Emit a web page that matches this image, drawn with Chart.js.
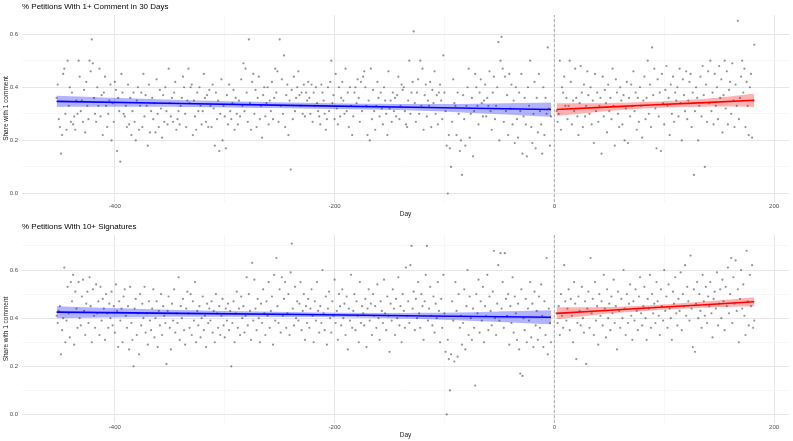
<!DOCTYPE html>
<html>
<head>
<meta charset="utf-8">
<script src="https://cdn.jsdelivr.net/npm/chart.js@4.4.0/dist/chart.umd.min.js"></script>
<style>
  body { margin: 0; background: #fff; }
  canvas { display: block; }
</style>
</head>
<body>
<canvas id="top-panel" width="793" height="220"></canvas>
<canvas id="bottom-panel" width="793" height="221"></canvas>
<script>
// days before / after the change (day 0)
var preStart = -453, preEnd = -3;
var postStart = 2, postEnd = 182;

// share of petitions with 1+ comment in 30 days
var commentPre = [
  .36,.41,.28,.25,.15,.22,.45,.47,.30,.24,
  .50,.33,.40,.27,.38,.26,.29,.24,.35,.30,
  .50,.44,.31,.35,.27,.39,.23,.42,.33,.28,
  .50,.46,.58,.49,.36,.30,.27,.40,.33,.47,
  .29,.37,.22,.38,.44,.33,.25,.30,.35,.41,
  .20,.34,.27,.42,.39,.16,.36,.31,.12,.45,
  .38,.30,.29,.33,.25,.41,.26,.36,.22,.31,
  .38,.27,.20,.35,.40,.24,.33,.38,.25,.45,
  .29,.37,.33,.18,.41,.23,.31,.36,.28,.34,
  .23,.43,.30,.25,.39,.32,.21,.37,.27,.40,
  .31,.26,.47,.34,.29,.36,.27,.38,.42,.24,
  .28,.31,.26,.33,.36,.44,.40,.30,.25,.35,
  .47,.34,.40,.41,.22,.35,.29,.24,.38,.31,
  .40,.33,.26,.31,.45,.36,.27,.37,.25,.39,
  .33,.25,.41,.32,.18,.38,.28,.35,.16,.30,
  .43,.20,.33,.29,.17,.37,.26,.41,.31,.28,
  .34,.39,.24,.36,.30,.26,.35,.29,.43,.33,
  .49,.31,.47,.38,.27,.58,.34,.24,.42,.45,
  .30,.39,.25,.36,.44,.28,.33,.21,.37,.40,
  .29,.34,.40,.26,.35,.31,.42,.28,.36,.47,
  .38,.46,.27,.58,.33,.43,.30,.52,.25,.37,
  .41,.22,.35,.09,.39,.28,.44,.31,.36,.40,
  .46,.37,.33,.38,.30,.41,.29,.38,.35,.42,
  .36,.30,.41,.27,.38,.33,.40,.34,.31,.29,
  .26,.41,.38,.35,.30,.24,.28,.40,.31,.42,
  .50,.34,.37,.28,.45,.32,.26,.40,.29,.36,
  .42,.35,.30,.47,.31,.38,.25,.40,.33,.22,
  .29,.38,.40,.34,.43,.36,.27,.42,.31,.44,
  .46,.40,.33,.22,.35,.20,.47,.28,.39,.31,
  .24,.33,.42,.36,.29,.38,.32,.26,.40,.35,
  .30,.22,.46,.32,.35,.27,.38,.31,.36,.29,
  .37,.44,.28,.33,.41,.39,.40,.31,.26,.25,
  .35,.50,.30,.38,.42,.61,.34,.27,.38,.43,
  .30,.50,.33,.47,.24,.37,.41,.29,.35,.33,
  .42,.25,.39,.34,.46,.30,.37,.26,.38,.41,
  .35,.28,.52,.38,.31,.18,.00,.22,.17,.10,
  .27,.43,.34,.33,.22,.38,.30,.16,.20,.07,
  .37,.28,.18,.33,.40,.47,.21,.30,.36,.14,
  .31,.45,.40,.33,.26,.38,.43,.34,.29,.35,
  .41,.29,.36,.33,.46,.31,.24,.38,.44,.28,
  .33,.40,.57,.20,.50,.59,.47,.27,.44,.31,
  .37,.22,.45,.32,.41,.26,.35,.19,.40,.28,
  .21,.38,.31,.45,.15,.29,.36,.26,.14,.40,
  .33,.50,.25,.19,.30,.42,.17,.36,.23,.45,
  .31,.26,.15,.40,.22,.36,.30,.55,.32,.18,
  .29
];
var commentPost = [
  .31,.27,.30,.50,.24,.40,.38,.44,.33,.36,
  .28,.33,.50,.42,.26,.35,.31,.47,.36,.29,
  .22,.34,.48,.38,.25,.41,.29,.33,.46,.37,
  .30,.40,.26,.35,.19,.45,.31,.38,.27,.33,
  .36,.15,.44,.29,.39,.34,.23,.41,.31,.36,
  .28,.47,.33,.18,.43,.38,.30,.25,.40,.35,
  .26,.37,.20,.32,.42,.19,.36,.29,.41,.33,
  .46,.31,.38,.24,.36,.27,.40,.33,.21,.35,
  .44,.28,.36,.50,.30,.41,.25,.55,.37,.47,
  .32,.17,.43,.29,.38,.16,.45,.34,.26,.39,
  .48,.33,.36,.22,.41,.30,.44,.27,.38,.35,
  .40,.29,.47,.34,.20,.43,.37,.31,.46,.28,
  .35,.42,.45,.25,.38,.07,.31,.40,.36,.20,
  .33,.44,.29,.48,.37,.10,.41,.27,.46,.34,
  .50,.31,.38,.26,.45,.33,.40,.28,.48,.36,
  .43,.23,.37,.50,.32,.46,.26,.39,.42,.30,
  .49,.35,.25,.41,.33,.65,.28,.36,.44,.50,
  .38,.47,.25,.42,.33,.22,.40,.45,.21,.35,
  .56
];

// share for petitions with 10+ signatures
var signPre = [
  .41,.38,.43,.45,.25,.35,.40,.61,.30,.39,
  .53,.42,.32,.55,.47,.58,.29,.51,.44,.36,
  .55,.40,.37,.49,.56,.43,.33,.46,.51,.38,
  .57,.45,.30,.52,.41,.36,.54,.42,.47,.33,
  .53,.39,.48,.44,.31,.50,.42,.36,.46,.40,
  .51,.37,.45,.34,.54,.43,.28,.47,.39,.44,
  .30,.49,.52,.41,.36,.45,.27,.53,.38,.31,
  .20,.44,.48,.33,.42,.25,.50,.37,.46,.40,
  .53,.34,.42,.29,.47,.39,.35,.44,.52,.32,
  .40,.47,.28,.43,.37,.50,.33,.45,.41,.38,
  .21,.43,.49,.36,.27,.46,.39,.52,.34,.42,
  .38,.57,.31,.45,.40,.48,.35,.29,.44,.51,
  .42,.36,.50,.33,.47,.39,.55,.30,.43,.37,
  .45,.32,.40,.49,.35,.41,.28,.46,.38,.44,
  .39,.47,.34,.43,.30,.50,.42,.36,.45,.33,
  .41,.48,.37,.32,.44,.39,.46,.35,.43,.20,
  .38,.47,.30,.42,.51,.36,.44,.33,.49,.40,
  .45,.34,.41,.57,.37,.50,.43,.31,.63,.39,
  .56,.44,.35,.48,.40,.30,.46,.38,.52,.42,
  .33,.47,.41,.55,.36,.43,.49,.29,.58,.39,
  .65,.45,.38,.52,.34,.57,.41,.48,.55,.36,
  .42,.50,.33,.59,.71,.44,.37,.53,.40,.47,
  .39,.46,.55,.35,.43,.50,.31,.45,.38,.48,
  .36,.44,.52,.41,.30,.47,.39,.55,.43,.34,
  .45,.38,.60,.42,.35,.49,.29,.44,.51,.40,
  .34,.47,.41,.56,.38,.43,.31,.50,.45,.37,
  .52,.40,.46,.33,.49,.27,.44,.39,.58,.36,
  .43,.50,.35,.47,.41,.30,.55,.38,.45,.42,
  .37,.48,.28,.44,.52,.39,.46,.33,.50,.41,
  .45,.36,.54,.40,.31,.47,.43,.38,.56,.42,
  .35,.49,.41,.26,.46,.39,.52,.44,.33,.48,
  .40,.57,.37,.45,.30,.50,.43,.36,.61,.41,
  .47,.38,.62,.70,.44,.51,.35,.48,.40,.55,
  .42,.36,.50,.45,.31,.47,.58,.70,.39,.44,
  .53,.41,.37,.49,.34,.46,.40,.55,.43,.30,
  .48,.36,.58,.42,.26,.00,.31,.23,.10,.25,
  .47,.39,.22,.55,.43,.24,.50,.36,.41,.29,
  .38,.52,.27,.45,.60,.33,.49,.40,.31,.44,
  .36,.12,.50,.42,.56,.34,.47,.39,.53,.30,
  .45,.41,.58,.35,.49,.43,.37,.51,.68,.40,
  .33,.46,.62,.39,.67,.44,.55,.36,.67,.48,
  .41,.50,.29,.45,.38,.57,.34,.49,.42,.31,
  .46,.27,.17,.52,.16,.40,.35,.48,.30,.44,
  .39,.55,.32,.46,.28,.51,.37,.43,.31,.49,
  .36,.54,.41,.28,.47,.33,.65,.25,.44,.38,
  .30
];
var signPost = [
  .42,.38,.45,.33,.50,.41,.36,.62,.47,.39,
  .44,.52,.35,.48,.41,.30,.55,.46,.23,.38,
  .49,.43,.37,.53,.40,.34,.47,.21,.44,.51,
  .36,.65,.42,.48,.33,.55,.39,.45,.29,.50,
  .41,.47,.37,.58,.44,.32,.52,.40,.46,.35,
  .49,.42,.56,.38,.45,.27,.51,.43,.36,.48,
  .40,.60,.44,.33,.50,.38,.46,.54,.41,.31,
  .47,.39,.52,.43,.35,.49,.57,.42,.37,.45,
  .53,.40,.31,.48,.44,.58,.36,.50,.42,.46,
  .38,.55,.47,.41,.33,.52,.45,.39,.60,.43,
  .49,.36,.54,.44,.40,.31,.51,.46,.57,.42,
  .37,.48,.43,.59,.35,.50,.45,.62,.41,.53,
  .47,.39,.66,.44,.28,.52,.26,.46,.55,.40,
  .50,.43,.36,.58,.47,.41,.53,.38,.49,.45,
  .55,.42,.32,.48,.51,.44,.59,.37,.46,.52,
  .40,.56,.47,.35,.53,.45,.61,.42,.50,.65,
  .38,.57,.46,.64,.43,.52,.30,.48,.60,.44,
  .54,.41,.33,.68,.47,.37,.58,.45,.62,.36,
  .39
];

// linear fits with confidence band
var fitPreX  = [-453, -340, -228, -115, -3];
var fitPostX = [2, 47, 92, 137, 182];
var commentPreFit  = [.347, .339, .331, .324, .316];
var commentPreLo   = [.326, .326, .320, .311, .289];
var commentPreHi   = [.368, .352, .342, .337, .343];
var commentPostFit = [.316, .325, .334, .342, .351];
var commentPostLo  = [.292, .310, .322, .327, .326];
var commentPostHi  = [.340, .340, .346, .357, .376];
var signPreFit  = [.425, .420, .415, .409, .404];
var signPreLo   = [.400, .406, .405, .396, .375];
var signPreHi   = [.450, .434, .425, .422, .433];
var signPostFit = [.420, .432, .444, .456, .468];
var signPostLo  = [.395, .418, .433, .443, .449];
var signPostHi  = [.445, .446, .455, .469, .487];

var xTicks = [-400, -300, -200, -100, 0, 100, 200];
var yTicksTop = [0, 0.1, 0.2, 0.3, 0.4, 0.5, 0.6];
var yTicksBottom = [0, 0.1, 0.2, 0.3, 0.4, 0.5, 0.6, 0.7];

function toPoints(xs, ys) {
  var out = [];
  for (var i = 0; i < ys.length && i < xs.length; i++) out.push({x: xs[i], y: ys[i]});
  return out;
}
function dayRange(a, b) {
  var out = [];
  for (var d = a; d <= b; d++) out.push(d);
  return out;
}

var titlePlugin = {
  id: 'panelTitle',
  afterDraw: function(chart, args, opts) {
    var c = chart.ctx;
    c.save();
    c.font = '8px "Liberation Sans", Arial, sans-serif';
    c.fillStyle = '#000';
    c.textBaseline = 'middle';
    c.textAlign = 'left';
    c.fillText(opts.text, chart.chartArea.left, 7);
    c.restore();
  }
};

function isMajor(v, step) {
  return Math.abs(Math.round(v / step) - v / step) < 1e-6;
}

function bandLine(xs, ys, color, fill) {
  return {
    data: toPoints(xs, ys), showLine: true, pointRadius: 0, borderWidth: 0,
    borderColor: 'rgba(0,0,0,0)', backgroundColor: color, fill: fill, tension: 0.3
  };
}

function makePanel(id, title, pre, post, fits, yMin, yMax, yTicks) {
  var points = toPoints(dayRange(preStart, preEnd), pre)
    .concat(toPoints(dayRange(postStart, postEnd), post));
  new Chart(document.getElementById(id).getContext('2d'), {
    type: 'scatter',
    data: {
      datasets: [
        {data: toPoints(fitPreX, fits.preFit), showLine: true, pointRadius: 0,
         borderColor: '#0000ff', borderWidth: 1.6},
        {data: toPoints(fitPostX, fits.postFit), showLine: true, pointRadius: 0,
         borderColor: '#ff0000', borderWidth: 1.6},
        bandLine(fitPreX, fits.preHi, 'rgba(0,0,255,0.3)', '+1'),
        bandLine(fitPreX, fits.preLo, 'rgba(0,0,255,0.3)', false),
        bandLine(fitPostX, fits.postHi, 'rgba(255,0,0,0.3)', '+1'),
        bandLine(fitPostX, fits.postLo, 'rgba(255,0,0,0.3)', false),
        {data: [{x: 0, y: yMin}, {x: 0, y: yMax}], showLine: true, pointRadius: 0,
         borderColor: '#9a9a9a', borderWidth: 0.8, borderDash: [3, 2]},
        {data: points, pointRadius: 1.1, borderWidth: 0,
         backgroundColor: 'rgba(40,40,40,0.5)'}
      ]
    },
    options: {
      responsive: false,
      animation: false,
      devicePixelRatio: 1,
      layout: {padding: {top: 15, right: 3, bottom: 0, left: 0}},
      plugins: {
        legend: {display: false},
        tooltip: {enabled: false},
        panelTitle: {text: title}
      },
      scales: {
        x: {
          type: 'linear', min: -484.5, max: 213.6,
          afterBuildTicks: function(s) { s.ticks = xTicks.map(function(v) { return {value: v}; }); },
          afterFit: function(s) { s.height = 18; },
          ticks: {
            autoSkip: false, maxRotation: 0, padding: 1,
            font: {family: '"Liberation Sans", Arial, sans-serif', size: 6}, color: '#4d4d4d',
            callback: function(v) { return isMajor(v, 200) ? String(v) : ''; }
          },
          grid: {
            drawTicks: false,
            color: function(ctx) { return ctx.tick && isMajor(ctx.tick.value, 200) ? '#e6e6e6' : '#f2f2f2'; },
            lineWidth: function(ctx) { return ctx.tick && isMajor(ctx.tick.value, 200) ? 1 : 0.6; }
          },
          border: {display: false},
          title: {
            display: true, text: 'Day', color: '#1a1a1a',
            font: {family: '"Liberation Sans", Arial, sans-serif', size: 6.5},
            padding: {top: 0, bottom: 2}
          }
        },
        y: {
          min: yMin, max: yMax,
          afterBuildTicks: function(s) { s.ticks = yTicks.map(function(v) { return {value: v}; }); },
          afterFit: function(s) { s.width = 22; },
          ticks: {
            autoSkip: false, padding: 4,
            font: {family: '"Liberation Sans", Arial, sans-serif', size: 6}, color: '#4d4d4d',
            callback: function(v) { return isMajor(v, 0.2) ? v.toFixed(1) : ''; }
          },
          grid: {
            drawTicks: false,
            color: function(ctx) { return ctx.tick && isMajor(ctx.tick.value, 0.2) ? '#e6e6e6' : '#f2f2f2'; },
            lineWidth: function(ctx) { return ctx.tick && isMajor(ctx.tick.value, 0.2) ? 1 : 0.6; }
          },
          border: {display: false},
          title: {
            display: true, text: 'Share with 1 comment', color: '#1a1a1a',
            font: {family: '"Liberation Sans", Arial, sans-serif', size: 6.5},
            padding: {top: 2, bottom: 0}
          }
        }
      }
    },
    plugins: [titlePlugin]
  });
}

makePanel('top-panel', '% Petitions With 1+ Comment in 30 Days', commentPre, commentPost,
  {preFit: commentPreFit, preLo: commentPreLo, preHi: commentPreHi,
   postFit: commentPostFit, postLo: commentPostLo, postHi: commentPostHi},
  -0.032, 0.672, yTicksTop);
makePanel('bottom-panel', '% Petitions With 10+ Signatures', signPre, signPost,
  {preFit: signPreFit, preLo: signPreLo, preHi: signPreHi,
   postFit: signPostFit, postLo: signPostLo, postHi: signPostHi},
  -0.0355, 0.7455, yTicksBottom);
</script>
</body>
</html>
